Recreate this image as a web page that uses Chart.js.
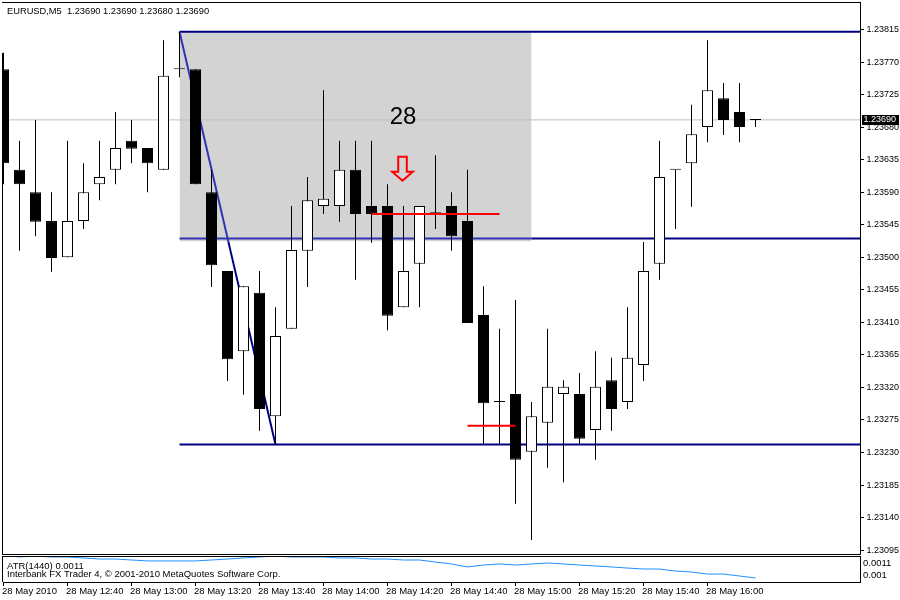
<!DOCTYPE html>
<html><head><meta charset="utf-8">
<script src="https://cdn.jsdelivr.net/npm/chart.js@4.4.0/dist/chart.umd.min.js"></script>
<style>
html,body{margin:0;padding:0;background:#fff;}
#wrap{position:relative;width:900px;height:600px;overflow:hidden;background:#fff;}
#c1{position:absolute;left:0;top:0;}
#c2{position:absolute;left:0;top:554px;}
</style></head><body>
<div id="wrap"><canvas id="c1" width="900" height="556"></canvas><canvas id="c2" width="900" height="46"></canvas></div>
<script>
// ---------- data ----------
const symbolTitle = 'EURUSD,M5  1.23690 1.23690 1.23680 1.23690';
const timeLabels = ['28 May 2010','28 May 12:40','28 May 13:00','28 May 13:20','28 May 13:40','28 May 14:00',
  '28 May 14:20','28 May 14:40','28 May 15:00','28 May 15:20','28 May 15:40','28 May 16:00'];
const priceTicks = [1.23095,1.23140,1.23185,1.23230,1.23275,1.23320,1.23365,1.23410,1.23455,1.23500,
  1.23545,1.23590,1.23635,1.23680,1.23725,1.23770,1.23815];
const atrTicks = [0.001, 0.0011];

const opens = [1.23760,1.23621,1.23590,1.23550,1.23500,1.23550,1.23601,1.23621,1.23661,1.23651,
  1.23621,1.23760,1.23760,1.23590,1.23481,1.23370,1.23451,1.23280,1.23401,1.23509,
  1.23571,1.23571,1.23621,1.23571,1.23571,1.23431,1.23491,1.23561,1.23571,1.23550,
  1.23420,1.23300,1.23311,1.23231,1.23271,1.23311,1.23311,1.23261,1.23330,1.23300,
  1.23351,1.23491,1.23621,1.23630,1.23680,1.23720,1.23701,1.23690];
const highs = [1.23783,1.23661,1.23690,1.23590,1.23661,1.23630,1.23661,1.23701,1.23690,1.23651,
  1.23800,1.23812,1.23760,1.23621,1.23481,1.23460,1.23481,1.23431,1.23571,1.23611,
  1.23731,1.23661,1.23661,1.23661,1.23601,1.23571,1.23571,1.23641,1.23590,1.23621,
  1.23460,1.23401,1.23441,1.23300,1.23401,1.23330,1.23340,1.23370,1.23361,1.23431,
  1.23521,1.23661,1.23621,1.23711,1.23800,1.23741,1.23741,1.23690];
const lows = [1.23601,1.23509,1.23529,1.23480,1.23500,1.23539,1.23579,1.23601,1.23630,1.23590,
  1.23621,1.23749,1.23601,1.23459,1.23329,1.23310,1.23260,1.23241,1.23401,1.23459,
  1.23560,1.23549,1.23469,1.23520,1.23399,1.23431,1.23431,1.23539,1.23509,1.23409,
  1.23241,1.23241,1.23159,1.23109,1.23209,1.23189,1.23241,1.23220,1.23260,1.23290,
  1.23329,1.23469,1.23539,1.23570,1.23659,1.23669,1.23659,1.23680];
const closes = [1.23630,1.23601,1.23549,1.23499,1.23550,1.23590,1.23611,1.23651,1.23650,1.23630,
  1.23751,1.23760,1.23601,1.23489,1.23359,1.23460,1.23290,1.23391,1.23510,1.23579,
  1.23581,1.23621,1.23560,1.23560,1.23419,1.23481,1.23571,1.23561,1.23529,1.23409,
  1.23298,1.23300,1.23220,1.23280,1.23321,1.23321,1.23249,1.23321,1.23290,1.23361,
  1.23481,1.23611,1.23621,1.23670,1.23731,1.23690,1.23680,1.23690];
const atr = [0.001167,0.001150,0.001158,0.001150,0.001150,0.001142,0.001133,0.001133,0.001125,0.001117,
  0.001117,0.001117,0.001117,0.001125,0.001133,0.001142,0.001150,0.001158,0.001150,0.001150,
  0.001150,0.001142,0.001142,0.001133,0.001133,0.001125,0.001125,0.001108,0.001092,0.001067,
  0.001083,0.001092,0.001083,0.001092,0.001100,0.001092,0.001083,0.001075,0.001067,0.001058,
  0.001050,0.001050,0.001033,0.001025,0.001008,0.001008,0.000992,0.000975];

// drawn objects (price levels / bar positions)
const levelTop = 1.23812, levelMid = 1.23526, levelLow = 1.23241;
const boxFrom = 11, boxTo = 33, boxTop = 1.23812, boxBottom = 1.23522;
const trendFrom = [11, 1.23812], trendBreak = [14.05, 1.23522], trendTo = [17, 1.23241];
const red1 = {from: 23, to: 31, price: 1.23560};
const red2 = {from: 29, to: 32, price: 1.23267};
const arrowBar = 25, arrowTop = 1.23639;
const textBar = 25, textPrice = 1.23693, textValue = '28';
const atrLabel = 'ATR(1440) 0.0011';
const copyright = 'Interbank FX Trader 4, \u00A9 2001-2010 MetaQuotes Software Corp.';

// ---------- scales ----------
const xMin = -0.03125, xMax = 53.53125;
const yMin = 1.23089616, yMax = 1.23853033;
const aMin = 0.000942, aMax = 0.001154;
const FONT = '"Liberation Sans", Arial, sans-serif';
Chart.defaults.font.family = FONT;
Chart.defaults.font.size = 9.5;
Chart.defaults.color = '#000';

const N = opens.length;
const idx = opens.map((_, i) => i);
const NAVY = '#000080', LIGHTBLUE = '#3232b4';

const zeroPad = s => { s.paddingTop = 0; s.paddingBottom = 0; s.paddingLeft = 0; s.paddingRight = 0; };

const overlay1 = {
  id: 'overlay1',
  afterDatasetsDraw(chart) {
    const {ctx, scales: {x, y}} = chart;
    ctx.save();
    const cx = x.getPixelForValue(arrowBar) - 1, ty = y.getPixelForValue(arrowTop);
    ctx.beginPath();
    ctx.moveTo(cx - 4.3, ty); ctx.lineTo(cx + 4.3, ty); ctx.lineTo(cx + 4.3, ty + 15);
    ctx.lineTo(cx + 10.3, ty + 15); ctx.lineTo(cx, ty + 24); ctx.lineTo(cx - 10.3, ty + 15);
    ctx.lineTo(cx - 4.3, ty + 15); ctx.closePath();
    ctx.strokeStyle = '#ff0000'; ctx.lineWidth = 2; ctx.lineJoin = 'miter'; ctx.stroke();
    ctx.fillStyle = '#000';
    ctx.font = '24px ' + FONT;
    ctx.textAlign = 'center'; ctx.textBaseline = 'middle';
    ctx.fillText(textValue, x.getPixelForValue(textBar) - 0.5, y.getPixelForValue(textPrice));
    ctx.restore();
  },
  afterDraw(chart) {
    const {ctx, chartArea: a, scales: {y}} = chart;
    ctx.save();
    ctx.fillStyle = '#000';
    ctx.fillRect(2, a.top, a.right - 2, 1);
    ctx.fillRect(2, a.bottom, a.right - 2, 1);
    const lt = Math.round(y.getPixelForValue(highs[0]));
    ctx.fillRect(2, lt, 1, a.bottom - lt + 1);
    ctx.font = '9.3px ' + FONT;
    ctx.textAlign = 'left'; ctx.textBaseline = 'middle';
    ctx.fillText(symbolTitle, 7, 11);
    const py = y.getPixelForValue(closes[N - 1]);
    ctx.fillRect(a.right + 2, Math.round(py) - 5, 37, 10);
    ctx.fillStyle = '#fff';
    ctx.font = '9px ' + FONT;
    ctx.fillText(closes[N - 1].toFixed(5), a.right + 3.5, py);
    ctx.restore();
  }
};

const seg2 = (c1, c2) => ({borderColor: ctx => ctx.p0DataIndex === 0 ? c1 : c2});
const lineDs = (pts, color, order, extra) => Object.assign({
  type: 'line', data: pts.map(p => ({x: p[0], y: p[1]})), borderColor: color, borderWidth: 2,
  pointRadius: 0, fill: false, tension: 0, clip: 0, order
}, extra || {});

new Chart(document.getElementById('c1'), {
  type: 'bar',
  data: {
    datasets: [
      lineDs([[boxFrom, boxTop], [boxTo, boxTop]], 'rgba(0,0,0,0)', 10,
        {borderWidth: 0, fill: {value: boxBottom}, backgroundColor: '#d3d3d3'}),
      lineDs([[xMin - 1, closes[N - 1]], [xMax + 1, closes[N - 1]]], '#c0c0c0', 9, {borderWidth: 1}),
      lineDs([[boxFrom, levelTop], [xMax + 1, levelTop]], NAVY, 8),
      lineDs([[boxFrom, levelMid], [boxTo, levelMid], [xMax + 1, levelMid]], NAVY, 8, {segment: seg2(LIGHTBLUE, NAVY)}),
      lineDs([[boxFrom, levelLow], [xMax + 1, levelLow]], NAVY, 8),
      lineDs([trendFrom, trendBreak, trendTo], NAVY, 7, {segment: seg2(LIGHTBLUE, NAVY)}),
      {
        type: 'bar', data: idx.map(i => ({x: i, y: [lows[i], highs[i]]})),
        backgroundColor: '#000', borderWidth: 0, barThickness: 1, grouped: false,
        inflateAmount: 0, minBarLength: 1, clip: 0, order: 5
      },
      {
        type: 'bar',
        data: idx.map(i => ({x: i, y: [Math.min(opens[i], closes[i]), Math.max(opens[i], closes[i])]})),
        backgroundColor: idx.map(i => closes[i] > opens[i] ? '#fff' : '#000'),
        borderColor: '#000', borderWidth: 1, borderSkipped: false, barThickness: 11, grouped: false,
        inflateAmount: 0, minBarLength: 1, clip: 0, order: 4
      },
      lineDs([[red1.from, red1.price], [red1.to, red1.price]], '#ff0000', 1),
      lineDs([[red2.from, red2.price], [red2.to, red2.price]], '#ff0000', 1)
    ]
  },
  options: {
    responsive: false, animation: false, events: [],
    layout: {padding: {top: 2, left: 3, bottom: 2, right: 0}},
    plugins: {legend: {display: false}, tooltip: {enabled: false}, title: {display: false}},
    scales: {
      x: {type: 'linear', min: xMin, max: xMax, display: false, offset: false, grid: {offset: false}},
      y: {
        type: 'linear', position: 'right', min: yMin, max: yMax, beginAtZero: false,
        afterBuildTicks: s => { s.ticks = priceTicks.map(v => ({value: v})); },
        afterFit: s => { s.width = 40; zeroPad(s); },
        ticks: {autoSkip: false, padding: 2.5, color: '#000', font: {size: 9}, callback: v => Number(v).toFixed(5)},
        grid: {drawOnChartArea: false, drawTicks: true, tickLength: 4, tickColor: '#000', color: '#000'},
        border: {display: true, color: '#000', width: 1}
      }
    }
  },
  plugins: [overlay1]
});

const overlay2 = {
  id: 'overlay2',
  afterDraw(chart) {
    const {ctx, chartArea: a} = chart;
    ctx.save();
    ctx.fillStyle = '#000';
    ctx.fillRect(2, Math.floor(a.top), a.right - 2, 1);
    ctx.fillRect(2, Math.floor(a.top), 1, a.bottom - Math.floor(a.top));
    ctx.font = '9.5px ' + FONT;
    ctx.textAlign = 'left'; ctx.textBaseline = 'middle';
    ctx.fillText(atrLabel, 7, 12.5);
    ctx.fillText(copyright, 7, 20.5);
    ctx.restore();
  }
};

new Chart(document.getElementById('c2'), {
  type: 'line',
  data: {
    datasets: [{
      data: idx.map(i => ({x: i, y: atr[i]})), borderColor: '#1e90ff', borderWidth: 1,
      pointRadius: 0, fill: false, tension: 0, clip: 0
    }]
  },
  options: {
    responsive: false, animation: false, events: [],
    layout: {padding: {top: 2.5, left: 3, bottom: 0, right: 0}},
    plugins: {legend: {display: false}, tooltip: {enabled: false}},
    scales: {
      x: {
        type: 'linear', min: xMin, max: xMax, position: 'bottom', offset: false,
        afterBuildTicks: s => { s.ticks = timeLabels.map((_, j) => ({value: j * 4})); },
        afterFit: s => { s.height = 18; zeroPad(s); },
        ticks: {autoSkip: false, maxRotation: 0, minRotation: 0, align: 'start', padding: 0, labelOffset: -1.5,
          color: '#000', callback: v => timeLabels[Math.round(v / 4)]},
        grid: {drawOnChartArea: false, offset: false, tickLength: 4, tickColor: '#000', color: '#000'},
        border: {display: true, color: '#000', width: 1}
      },
      y: {
        type: 'linear', position: 'right', min: aMin, max: aMax, beginAtZero: false,
        afterBuildTicks: s => { s.ticks = atrTicks.map(v => ({value: v})); },
        afterFit: s => { s.width = 40; zeroPad(s); },
        ticks: {autoSkip: false, padding: 3, color: '#000', callback: v => String(v)},
        grid: {drawOnChartArea: false, drawTicks: false},
        border: {display: true, color: '#000', width: 1}
      }
    }
  },
  plugins: [overlay2]
});
</script>
</body></html>
